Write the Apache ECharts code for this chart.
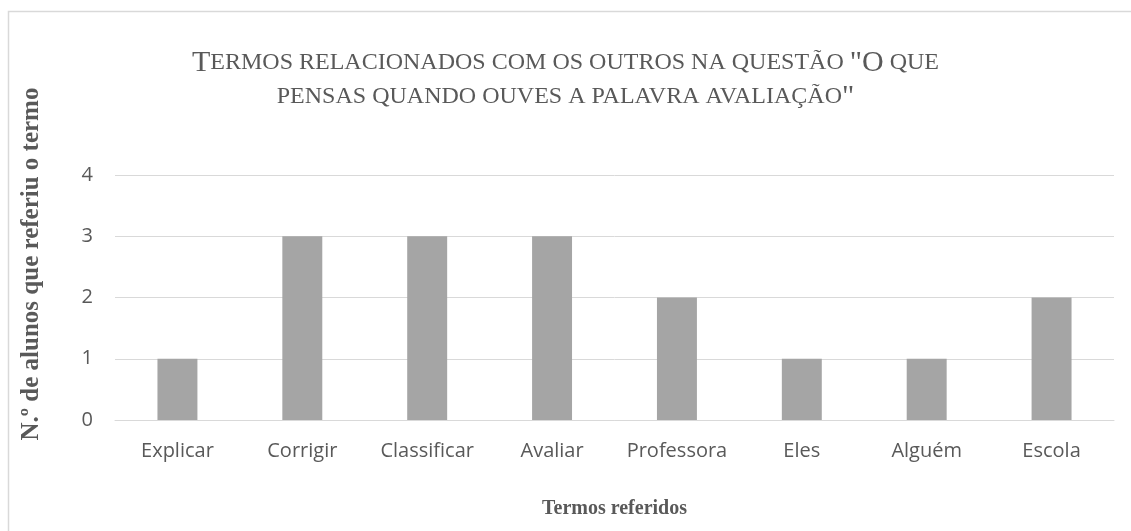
<!DOCTYPE html>
<html>
<head>
<meta charset="utf-8">
<script src="https://cdn.jsdelivr.net/npm/echarts@6/dist/echarts.min.js"></script>
<style>
  html, body { margin: 0; padding: 0; background: #fff; }
  #chart { width: 1131px; height: 531px; }
</style>
</head>
<body>
<div id="chart"></div>
<script>
// data
const termos = ['Explicar', 'Corrigir', 'Classificar', 'Avaliar', 'Professora', 'Eles', 'Alguém', 'Escola'];
const alunos = [1, 3, 3, 3, 2, 1, 1, 2];
const yTicks = { min: 0, max: 4, interval: 1 };

const chart = echarts.init(document.getElementById('chart'));

const serif = '"Liberation Serif", "Times New Roman", serif';
const sans = '"Open Sans", "Noto Sans", sans-serif';

const option = {
  animation: false,
  title: {
    left: 'center',
    top: 41,
    text: '{big|T}{sm|ERMOS RELACIONADOS COM OS OUTROS NA QUESTÃO }{big|"O}{sm| QUE}\n{sm|PENSAS QUANDO OUVES A PALAVRA AVALIAÇÃO}{big|"}',
    textStyle: {
      fontWeight: 'normal',
      rich: {
        big: { fontFamily: serif, fontSize: 30, fontWeight: 'normal', color: '#595959', lineHeight: 34 },
        sm: { fontFamily: serif, fontSize: 24, fontWeight: 'normal', color: '#595959', lineHeight: 34 }
      }
    }
  },
  graphic: [
    {
      // chart area frame
      type: 'rect',
      silent: true,
      shape: { x: 8.5, y: 11.5, width: 1200, height: 600 },
      style: { fill: 'none', stroke: '#d9d9d9', lineWidth: 1.5 }
    },
    {
      type: 'text',
      x: 32,
      y: 264,
      rotation: Math.PI / 2,
      style: {
        text: 'N.º de alunos que referiu o termo',
        font: 'bold 25px ' + serif,
        fill: '#595959',
        align: 'center',
        verticalAlign: 'middle'
      }
    }
  ],
  grid: {
    left: 115,
    right: 17,
    top: 175,
    bottom: 111
  },
  xAxis: {
    type: 'category',
    data: termos,
    name: 'Termos referidos',
    nameLocation: 'middle',
    nameGap: 79,
    nameTextStyle: { fontFamily: serif, fontSize: 20, fontWeight: 'bold', color: '#595959' },
    axisLine: { lineStyle: { color: '#d9d9d9' } },
    axisTick: { show: false },
    axisLabel: { interval: 0, fontFamily: sans, fontSize: 20, color: '#595959', margin: 21 }
  },
  yAxis: {
    type: 'value',
    min: yTicks.min,
    max: yTicks.max,
    interval: yTicks.interval,
    axisLine: { show: false },
    axisTick: { show: false },
    splitLine: { lineStyle: { color: '#d9d9d9' } },
    axisLabel: { fontFamily: sans, fontSize: 20, color: '#595959', margin: 22 }
  },
  series: [{
    type: 'bar',
    data: alunos,
    barWidth: '32%',
    itemStyle: { color: '#a5a5a5' }
  }]
};

chart.setOption(option);
</script>
</body>
</html>
